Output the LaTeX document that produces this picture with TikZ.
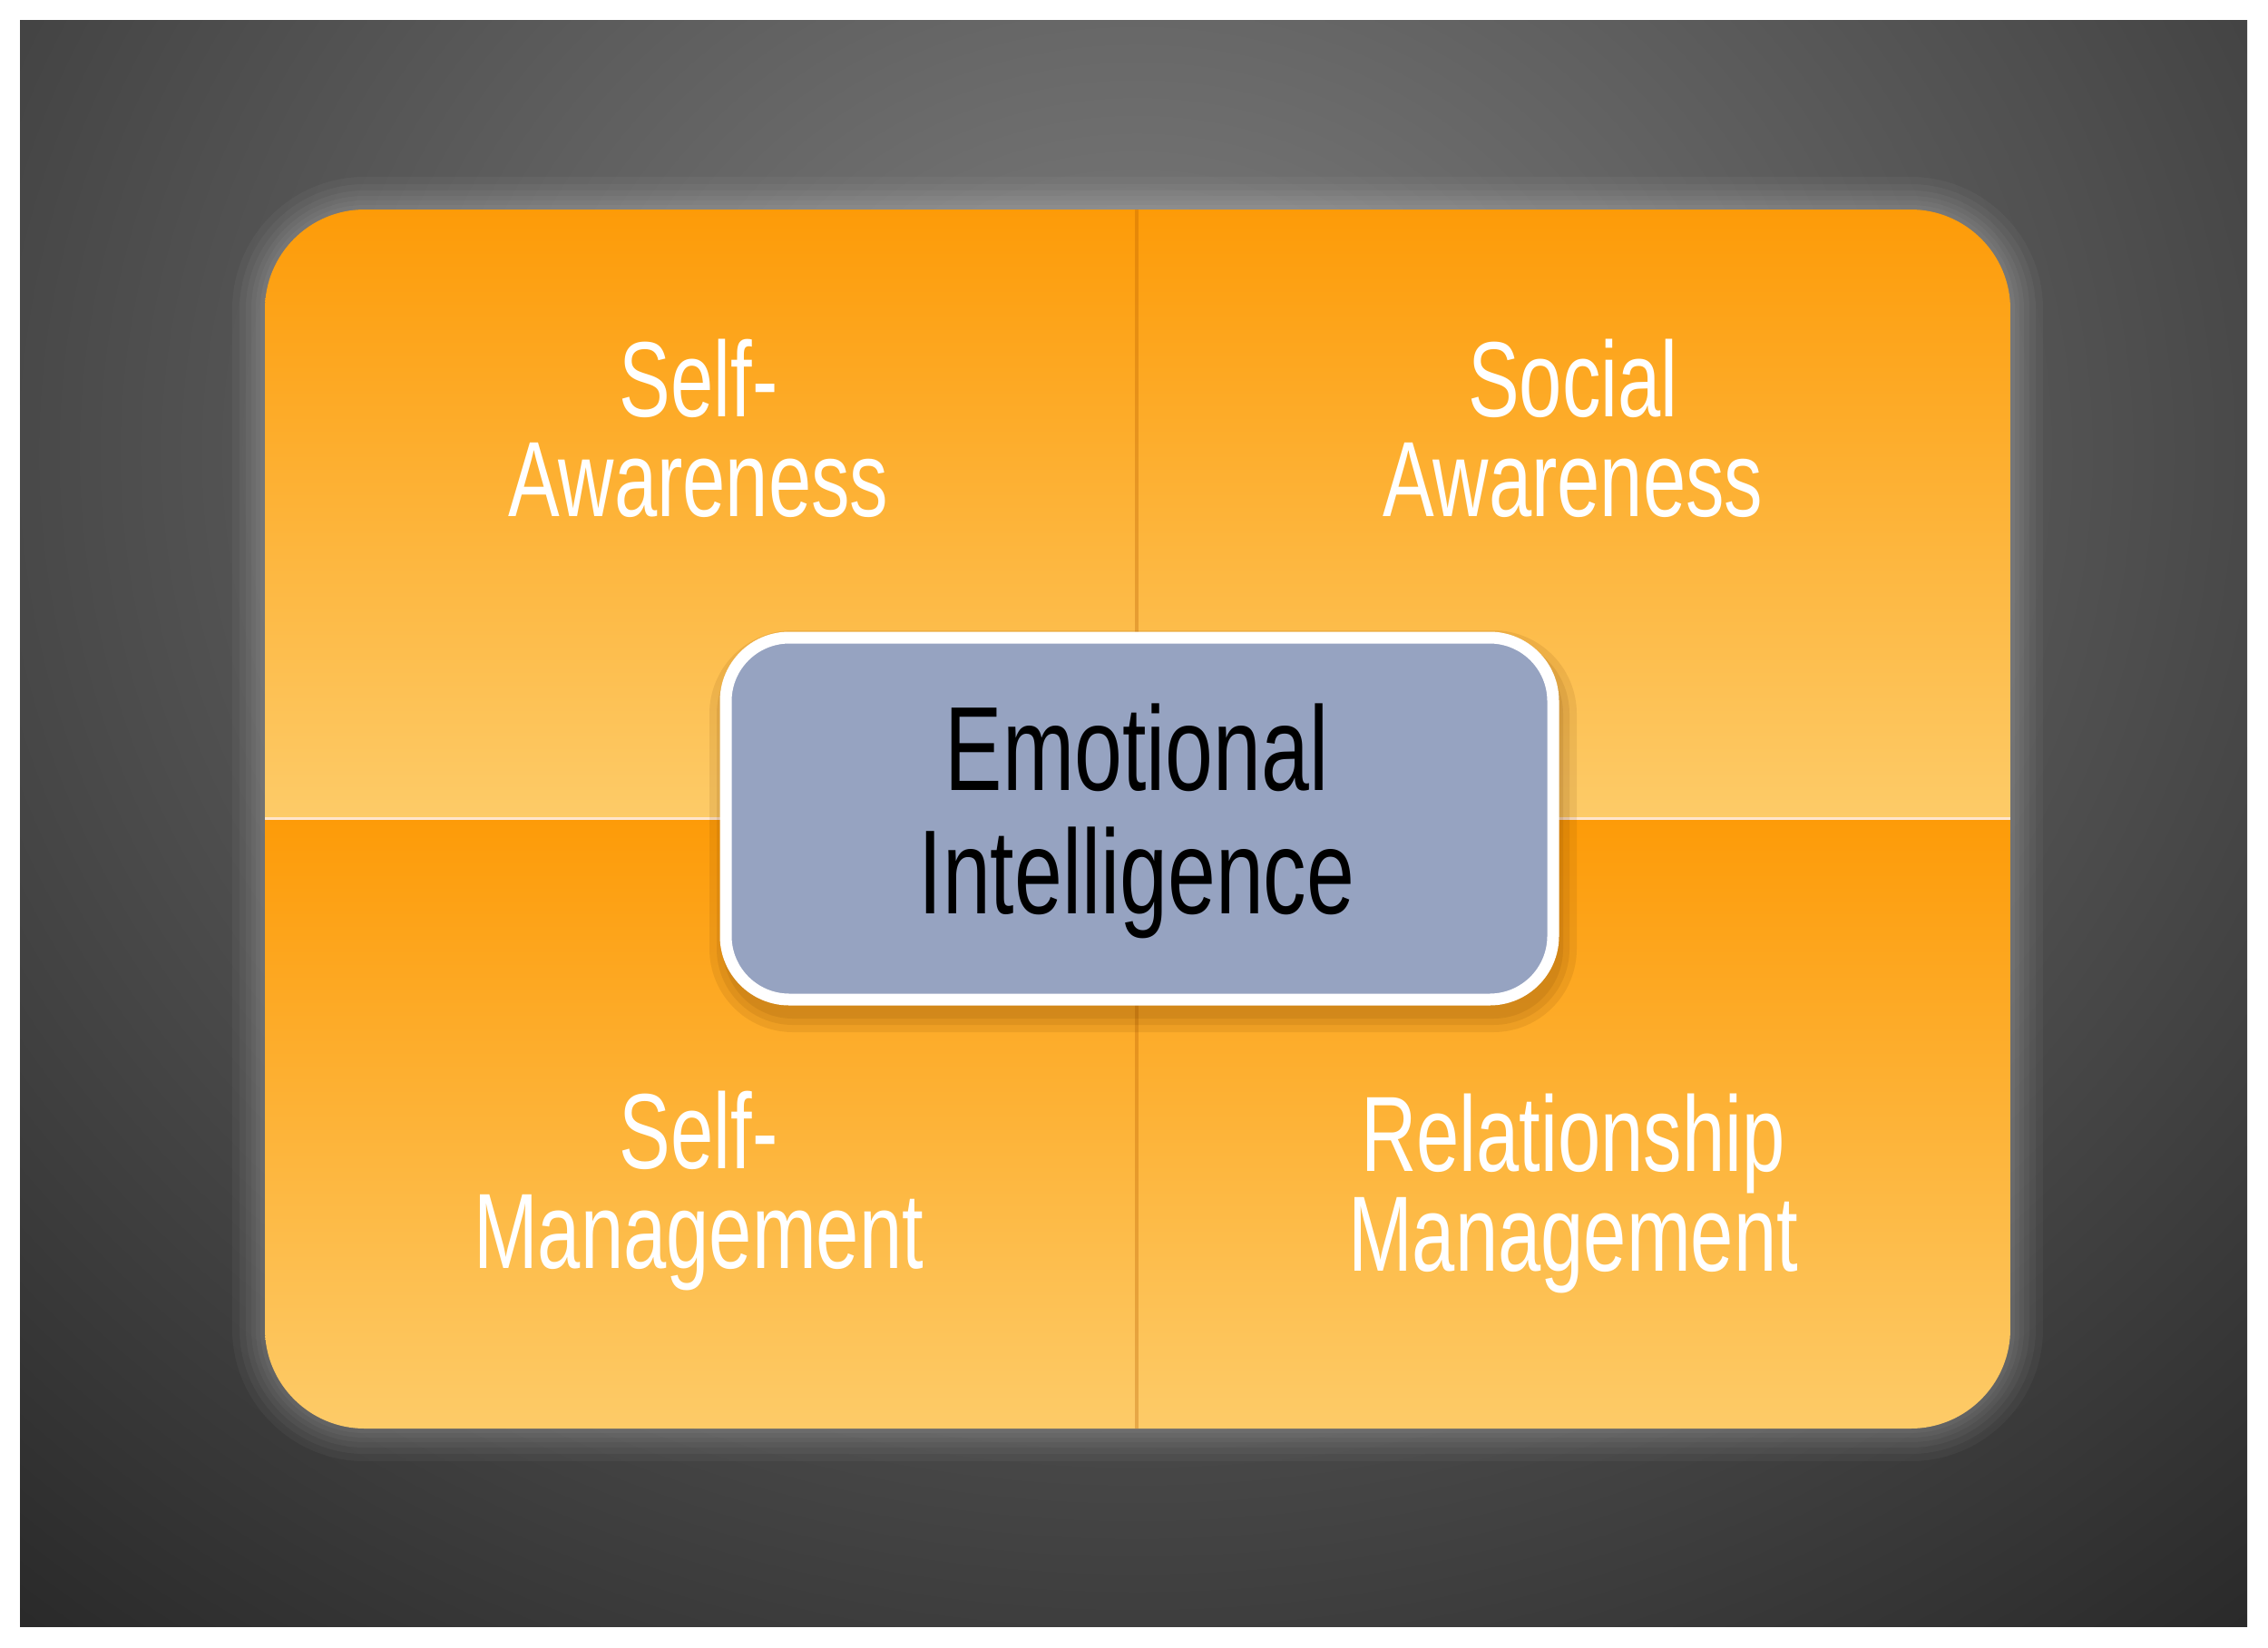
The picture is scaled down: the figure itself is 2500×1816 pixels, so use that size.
\documentclass[tikz,border=0pt]{standalone}
\usepackage{fontspec}
\setmainfont[FakeStretch=0.72]{Liberation Sans}
\begin{document}
\begin{tikzpicture}[x=1pt,y=-1pt,
  quad/.style={top color=orange1,bottom color=orange2,draw=none},
  lbl/.style={text=white,align=center,font=\fontsize{118}{110}\selectfont},
  cent/.style={text=black,align=center,font=\fontsize{132}{136}\selectfont}]
\definecolor{orange1}{HTML}{FD9B08}
\definecolor{orange2}{HTML}{FDCB68}
\definecolor{centc}{HTML}{96A3C1}
\useasboundingbox (0,0) rectangle (2500,1816);
\fill[white] (0,0) rectangle (2500,1816);
\begin{scope}
\clip (22,22) rectangle (2477,1793);
\shade[inner color=black!50,outer color=black!92] (1253-2400,500-2100) rectangle (1253+2400,500+2100);
\foreach \r in {36,28,21,15,10,5}
  \fill[white,opacity=0.04,rounded corners=110+\r] (292-\r,231-\r) rectangle (2216+\r,1575+\r);
\end{scope}
\begin{scope}
\clip[rounded corners=110] (292,231) rectangle (2216,1575);
\shade[quad] (292,231) rectangle (1253,902);
\shade[quad] (1253,231) rectangle (2216,902);
\shade[quad] (292,902) rectangle (1253,1575);
\shade[quad] (1253,902) rectangle (2216,1575);
\draw[white!80!orange,line width=3] (292,902) -- (2216,902);
\draw[orange!70!black,opacity=0.3,line width=4] (1253,231) -- (1253,1575);
\end{scope}
\node[lbl] (sa) at (770,472) {Self-\\Awareness};
\node[lbl] (so) at (1734,472) {Social\\Awareness};
\node[lbl] (sm) at (770,1313) {Self-\\Management};
\node[lbl] (rm) at (1734,1316) {Relationship\\Management};
\foreach \r in {22,14,7}
  \fill[black!60!orange,opacity=0.1,rounded corners=70+\r] (800-\r+4,703-\r+14) rectangle (1712+\r+4,1102+\r+14);
\draw[fill=centc,draw=white,line width=13,rounded corners=70] (800,703) rectangle (1712,1102);
\node[cent] (ei) at (1253,905) {Emotional\\Intelligence};
\end{tikzpicture}
\end{document}
